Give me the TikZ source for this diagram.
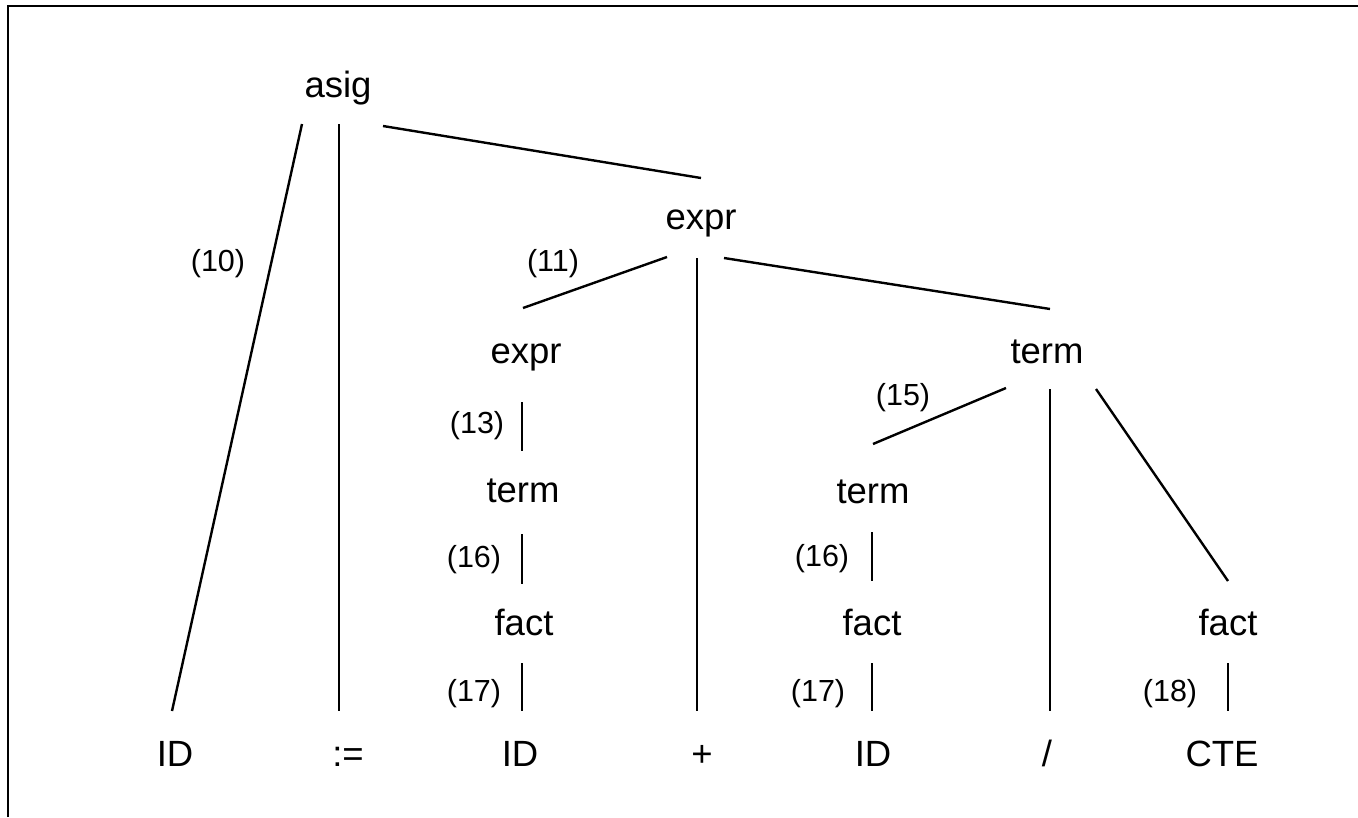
\documentclass[tikz,border=0pt]{standalone}
\usepackage{fontspec}
\setmainfont{Liberation Sans}
\begin{document}
\begin{tikzpicture}[x=1pt,y=-1pt,
  sym/.style={inner sep=0pt,anchor=base,font=\fontsize{36.5}{40}\selectfont},
  rule/.style={inner sep=0pt,anchor=base,font=\fontsize{30.5}{34}\selectfont},
  edge/.style={line width=2.4pt},
  frame/.style={line width=2.6pt}]
\useasboundingbox (0,0) rectangle (1358,817);
% frame
\coordinate (fa) at (8,817);
\coordinate (fb) at (8,6);
\coordinate (fc) at (1358,6);
\draw[frame] (fa) -- (fb) -- (fc);
% grammar symbols
\node[sym] (asig)  at (338,97)  {asig};
\node[sym] (expr)  at (701,229) {expr};
\node[sym] (exprL) at (526,363) {expr};
\node[sym] (termR) at (1047,363) {term};
\node[sym] (termL) at (523,502) {term};
\node[sym] (termM) at (873,503) {term};
\node[sym] (factL) at (524,635) {fact};
\node[sym] (factM) at (872,635) {fact};
\node[sym] (factR) at (1228,635) {fact};
\node[sym] (id1)   at (175,766) {ID};
\node[sym] (asg)   at (348,766) {:=};
\node[sym] (id2)   at (520,766) {ID};
\node[sym] (plus)  at (702,766) {+};
\node[sym] (id3)   at (873,766) {ID};
\node[sym] (slash) at (1047,766) {/};
\node[sym] (cte)   at (1222,766) {CTE};
% rule labels
\node[rule] (r10)  at (218,271)  {(10)};
\node[rule] (r11)  at (553,271)  {(11)};
\node[rule] (r13)  at (477,433)  {(13)};
\node[rule] (r15)  at (903,405)  {(15)};
\node[rule] (r16a) at (474,567)  {(16)};
\node[rule] (r16b) at (822,566)  {(16)};
\node[rule] (r17a) at (474,701)  {(17)};
\node[rule] (r17b) at (818,701)  {(17)};
\node[rule] (r18)  at (1170,701) {(18)};
% connector end points
\coordinate (asig-a) at (302,124);  \coordinate (id1-t)  at (172,711);
\coordinate (asig-b) at (339,124);  \coordinate (asg-t)  at (339,711);
\coordinate (asig-c) at (383,126);  \coordinate (expr-t) at (701,178);
\coordinate (expr-a) at (667,257);  \coordinate (exprL-t) at (523,308);
\coordinate (expr-b) at (697,258);  \coordinate (plus-t) at (697,711);
\coordinate (expr-c) at (724,258);  \coordinate (termR-t) at (1050,309);
\coordinate (exprL-b) at (522,402); \coordinate (termL-t) at (522,451);
\coordinate (termL-b) at (522,534); \coordinate (factL-t) at (522,584);
\coordinate (factL-b) at (522,663); \coordinate (id2-t)  at (522,711);
\coordinate (termR-a) at (1006,388); \coordinate (termM-t) at (873,444);
\coordinate (termR-b) at (1050,389); \coordinate (slash-t) at (1050,711);
\coordinate (termR-c) at (1096,389); \coordinate (factR-t) at (1228,581);
\coordinate (termM-b) at (872,532); \coordinate (factM-t) at (872,581);
\coordinate (factM-b) at (872,663); \coordinate (id3-t)  at (872,711);
\coordinate (factR-b) at (1228,663); \coordinate (cte-t) at (1228,711);
% connectors
\draw[edge] (asig-a) -- (id1-t);
\draw[edge] (asig-b) -- (asg-t);
\draw[edge] (asig-c) -- (expr-t);
\draw[edge] (expr-a) -- (exprL-t);
\draw[edge] (expr-b) -- (plus-t);
\draw[edge] (expr-c) -- (termR-t);
\draw[edge] (exprL-b) -- (termL-t);
\draw[edge] (termL-b) -- (factL-t);
\draw[edge] (factL-b) -- (id2-t);
\draw[edge] (termR-a) -- (termM-t);
\draw[edge] (termR-b) -- (slash-t);
\draw[edge] (termR-c) -- (factR-t);
\draw[edge] (termM-b) -- (factM-t);
\draw[edge] (factM-b) -- (id3-t);
\draw[edge] (factR-b) -- (cte-t);
\end{tikzpicture}
\end{document}
